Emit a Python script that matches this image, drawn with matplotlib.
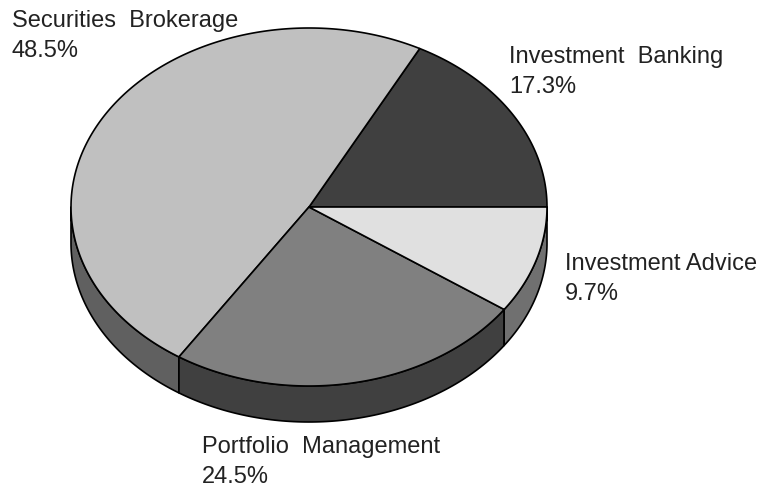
import numpy as np
import matplotlib.pyplot as plt
from matplotlib.patches import Polygon

labels = ['Investment Banking', 'Securities Brokerage', 'Portfolio Management', 'Investment Advice']
values = [17.3, 48.5, 24.5, 9.7]
top_colors = ['#404040', '#c0c0c0', '#808080', '#e0e0e0']
side_colors = ['#404040', '#606060', '#404040', '#707070']
# label anchor (left, baseline of first line) in pixels
label_pos = [(509, 63), (12, 27), (202, 453), (565, 270)]

W, H = 772, 484
cx, cy, rx, ry, depth = 309, 207, 238, 179, 36

plt.rcParams['font.family'] = ['Liberation Sans', 'DejaVu Sans']
fig = plt.figure(figsize=(W / 100, H / 100), dpi=100)
ax = fig.add_axes([0, 0, 1, 1])
ax.set_xlim(0, W)
ax.set_ylim(H, 0)
ax.axis('off')


def pt(a, dy=0):
    r = np.radians(a)
    return cx + rx * np.cos(r), cy - ry * np.sin(r) + dy


total = sum(values)
angles = np.concatenate([[0], np.cumsum(values) / total * 360])

# side walls (front half only: 180..360 degrees)
for i in range(len(values)):
    a0, a1 = angles[i], angles[i + 1]
    s0, s1 = max(a0, 180), min(a1, 360)
    if s1 <= s0:
        continue
    t = np.linspace(s0, s1, 100)
    upper = [pt(a) for a in t]
    lower = [pt(a, depth) for a in t[::-1]]
    ax.add_patch(Polygon(upper + lower, closed=True, facecolor=side_colors[i],
                         edgecolor='black', lw=1.2, joinstyle='round'))

# top faces
for i in range(len(values)):
    t = np.linspace(angles[i], angles[i + 1], 200)
    pts = [(cx, cy)] + [pt(a) for a in t]
    ax.add_patch(Polygon(pts, closed=True, facecolor=top_colors[i],
                         edgecolor='black', lw=1.2, joinstyle='round'))

for i, lab in enumerate(labels):
    x, y = label_pos[i]
    ax.text(x, y, lab.replace(' ', '  ') if lab != 'Investment Advice' else lab,
            fontsize=17, color='#222222', ha='left', va='baseline')
    ax.text(x, y + 30, '%.1f%%' % values[i],
            fontsize=17, color='#222222', ha='left', va='baseline')

fig.savefig('out.png', dpi=100)
